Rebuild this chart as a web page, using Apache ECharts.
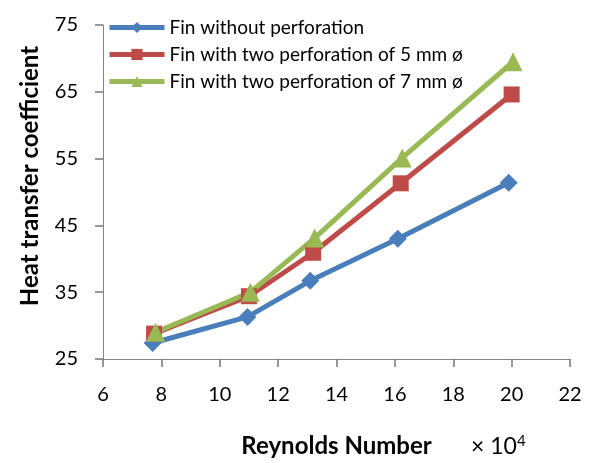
<!DOCTYPE html>
<html><head><meta charset="utf-8">
<script src="https://cdn.jsdelivr.net/npm/echarts@6/dist/echarts.min.js"></script>
<style>html,body{margin:0;padding:0;background:#fff}#c{width:589px;height:463px}</style>
</head><body><div id="c"></div>
<script>
var seriesNames = ['Fin without perforation', 'Fin with two perforation of 5 mm ø', 'Fin with two perforation of 7 mm ø'];
var xBlue = [7.7, 10.95, 13.1, 16.1, 19.9];
var yBlue = [27.4, 31.3, 36.7, 43.0, 51.4];
var xRed = [7.75, 11.0, 13.2, 16.2, 20.0];
var yRed = [28.8, 34.4, 40.9, 51.3, 64.6];
var xGreen = [7.8, 11.05, 13.25, 16.25, 20.05];
var yGreen = [29.0, 35.0, 43.1, 55.1, 69.5];
var xTicks = [6, 8, 10, 12, 14, 16, 18, 20, 22];
var yTicks = [25, 35, 45, 55, 65, 75];

function pairs(xs, ys) { return xs.map(function (x, i) { return [x, ys[i]]; }); }
var FONT = 'Lato, "Open Sans", sans-serif';
var chart = echarts.init(document.getElementById('c'));
chart.setOption({
  animation: false,
  backgroundColor: '#fff',
  grid: { left: 103, right: 19, top: 25, bottom: 103, containLabel: false },
  legend: {
    orient: 'vertical', left: 107, top: 18, padding: 0, itemWidth: 55, itemHeight: 14, itemGap: 8,
    textStyle: { fontFamily: FONT, fontSize: 19, color: '#000' },
    lineStyle: { width: 5 },
    data: seriesNames
  },
  xAxis: {
    type: 'value', min: 6, max: 22, interval: 2,
    splitLine: { show: false },
    axisLine: { show: true, lineStyle: { color: '#868686', width: 1 } },
    axisTick: { show: true, inside: false, length: 8, lineStyle: { color: '#777', width: 1.5, opacity: 1 } },
    axisLabel: { fontFamily: FONT, fontSize: 20, color: '#000', margin: 26 },
    name: 'Reynolds Number', nameLocation: 'middle', nameGap: 75,
    nameTextStyle: { fontFamily: FONT, fontSize: 24, fontWeight: 'bold', color: '#000' }
  },
  yAxis: {
    type: 'value', min: 25, max: 75, interval: 10,
    splitLine: { show: false },
    axisLine: { show: true, lineStyle: { color: '#868686', width: 1 } },
    axisTick: { show: true, inside: false, length: 8, lineStyle: { color: '#777', width: 1.5, opacity: 1 } },
    axisLabel: { fontFamily: FONT, fontSize: 20, color: '#000', margin: 25 },
    name: 'Heat transfer coefficient', nameLocation: 'middle', nameGap: 61,
    nameTextStyle: { fontFamily: FONT, fontSize: 24, fontWeight: 'bold', color: '#000', padding: [0, 0, 0, 32] }
  },
  graphic: [{
    type: 'text', left: 471, top: 434,
    style: {
      text: '× 10{s|4}', fontFamily: FONT, fontSize: 23, fill: '#000',
      rich: { s: { fontFamily: FONT, fontSize: 15, verticalAlign: 'top', padding: [0, 0, 10, 0] } }
    }
  }],
  series: [
    { name: seriesNames[0], type: 'line', data: pairs(xBlue, yBlue), symbol: 'diamond', symbolSize: 18,
      lineStyle: { width: 5, color: '#4a7ebb' }, itemStyle: { color: '#4a7ebb' } },
    { name: seriesNames[1], type: 'line', data: pairs(xRed, yRed), symbol: 'rect', symbolSize: 16,
      lineStyle: { width: 5, color: '#be4b48' }, itemStyle: { color: '#be4b48' } },
    { name: seriesNames[2], type: 'line', data: pairs(xGreen, yGreen), symbol: 'triangle', symbolSize: 19,
      lineStyle: { width: 5, color: '#98b954' }, itemStyle: { color: '#98b954' } }
  ]
});
</script></body></html>
